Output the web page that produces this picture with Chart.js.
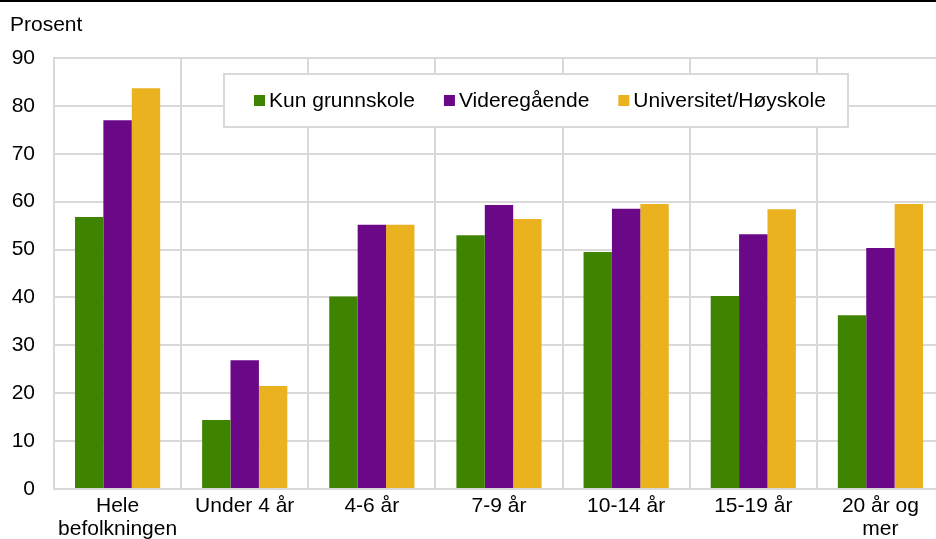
<!DOCTYPE html>
<html>
<head>
<meta charset="utf-8">
<script src="https://cdn.jsdelivr.net/npm/chart.js@4/dist/chart.umd.min.js"></script>
<style>
  html, body { margin: 0; padding: 0; background: #fff; overflow: hidden; }
  #wrap { width: 936px; height: 539px; overflow: hidden; position: relative; }
</style>
</head>
<body>
<div id="wrap"><canvas id="chart" width="950" height="539"></canvas></div>
<script>
// Data
const categories = [['Hele', 'befolkningen'], 'Under 4 år', '4-6 år', '7-9 år', '10-14 år', '15-19 år', ['20 år og', 'mer']];
const grunnskole = [56.8, 14.4, 40.2, 53.0, 49.5, 40.3, 36.3];
const videregaende = [77.0, 26.9, 55.2, 59.3, 58.5, 53.2, 50.3];
const universitet = [83.7, 21.5, 55.2, 56.4, 59.5, 58.4, 59.5];
const yTicks = [0, 10, 20, 30, 40, 50, 60, 70, 80, 90];

const FONT = '"Liberation Sans", Arial, sans-serif';
const GRID = '#d9d9d9';

// Title, top rule and boxed legend
const extras = {
  id: 'extras',
  afterDraw(chart) {
    const ctx = chart.ctx;
    ctx.save();
    ctx.fillStyle = '#000';
    ctx.fillRect(0, 0, chart.width, 2);
    ctx.font = '21px ' + FONT;
    ctx.textBaseline = 'alphabetic';
    ctx.textAlign = 'left';
    ctx.fillText('Prosent', 10, 31);

    // legend box
    ctx.fillStyle = '#fff';
    ctx.fillRect(224, 74, 624, 53);
    ctx.strokeStyle = GRID;
    ctx.lineWidth = 2;
    ctx.strokeRect(224, 74, 624, 53);

    let x = 254;
    ctx.textBaseline = 'middle';
    chart.data.datasets.forEach(ds => {
      ctx.fillStyle = ds.backgroundColor;
      ctx.fillRect(x, 95, 11, 11);
      x += 15;
      ctx.fillStyle = '#000';
      ctx.fillText(ds.label, x, 101);
      x += ctx.measureText(ds.label).width + 29;
    });
    ctx.restore();
  }
};

new Chart(document.getElementById('chart').getContext('2d'), {
  type: 'bar',
  data: {
    labels: categories,
    datasets: [
      { label: 'Kun grunnskole', data: grunnskole, backgroundColor: '#3e8400' },
      { label: 'Videregående', data: videregaende, backgroundColor: '#6a0888' },
      { label: 'Universitet/Høyskole', data: universitet, backgroundColor: '#ebb220' }
    ]
  },
  options: {
    responsive: false,
    animation: false,
    devicePixelRatio: 1,
    layout: { padding: { left: 0, right: 6, top: 58, bottom: 0 } },
    datasets: { bar: { categoryPercentage: 0.67, barPercentage: 1.0 } },
    plugins: { legend: { display: false }, tooltip: { enabled: false } },
    scales: {
      x: {
        grid: { color: GRID, lineWidth: 2, drawTicks: false, offset: true },
        border: { color: GRID, width: 2 },
        ticks: { color: '#000', font: { family: FONT, size: 21, lineHeight: 1.1 }, padding: 6, maxRotation: 0, autoSkip: false },
        afterFit(scale) { scale.height = 50; }
      },
      y: {
        min: 0,
        max: 90,
        afterBuildTicks(scale) { scale.ticks = yTicks.map(v => ({ value: v })); },
        grid: { color: GRID, lineWidth: 2, drawTicks: false },
        border: { color: GRID, width: 2 },
        ticks: { color: '#000', font: { family: FONT, size: 21 }, padding: 19 },
        afterFit(scale) { scale.width = 54; }
      }
    }
  },
  plugins: [extras]
});
</script>
</body>
</html>
